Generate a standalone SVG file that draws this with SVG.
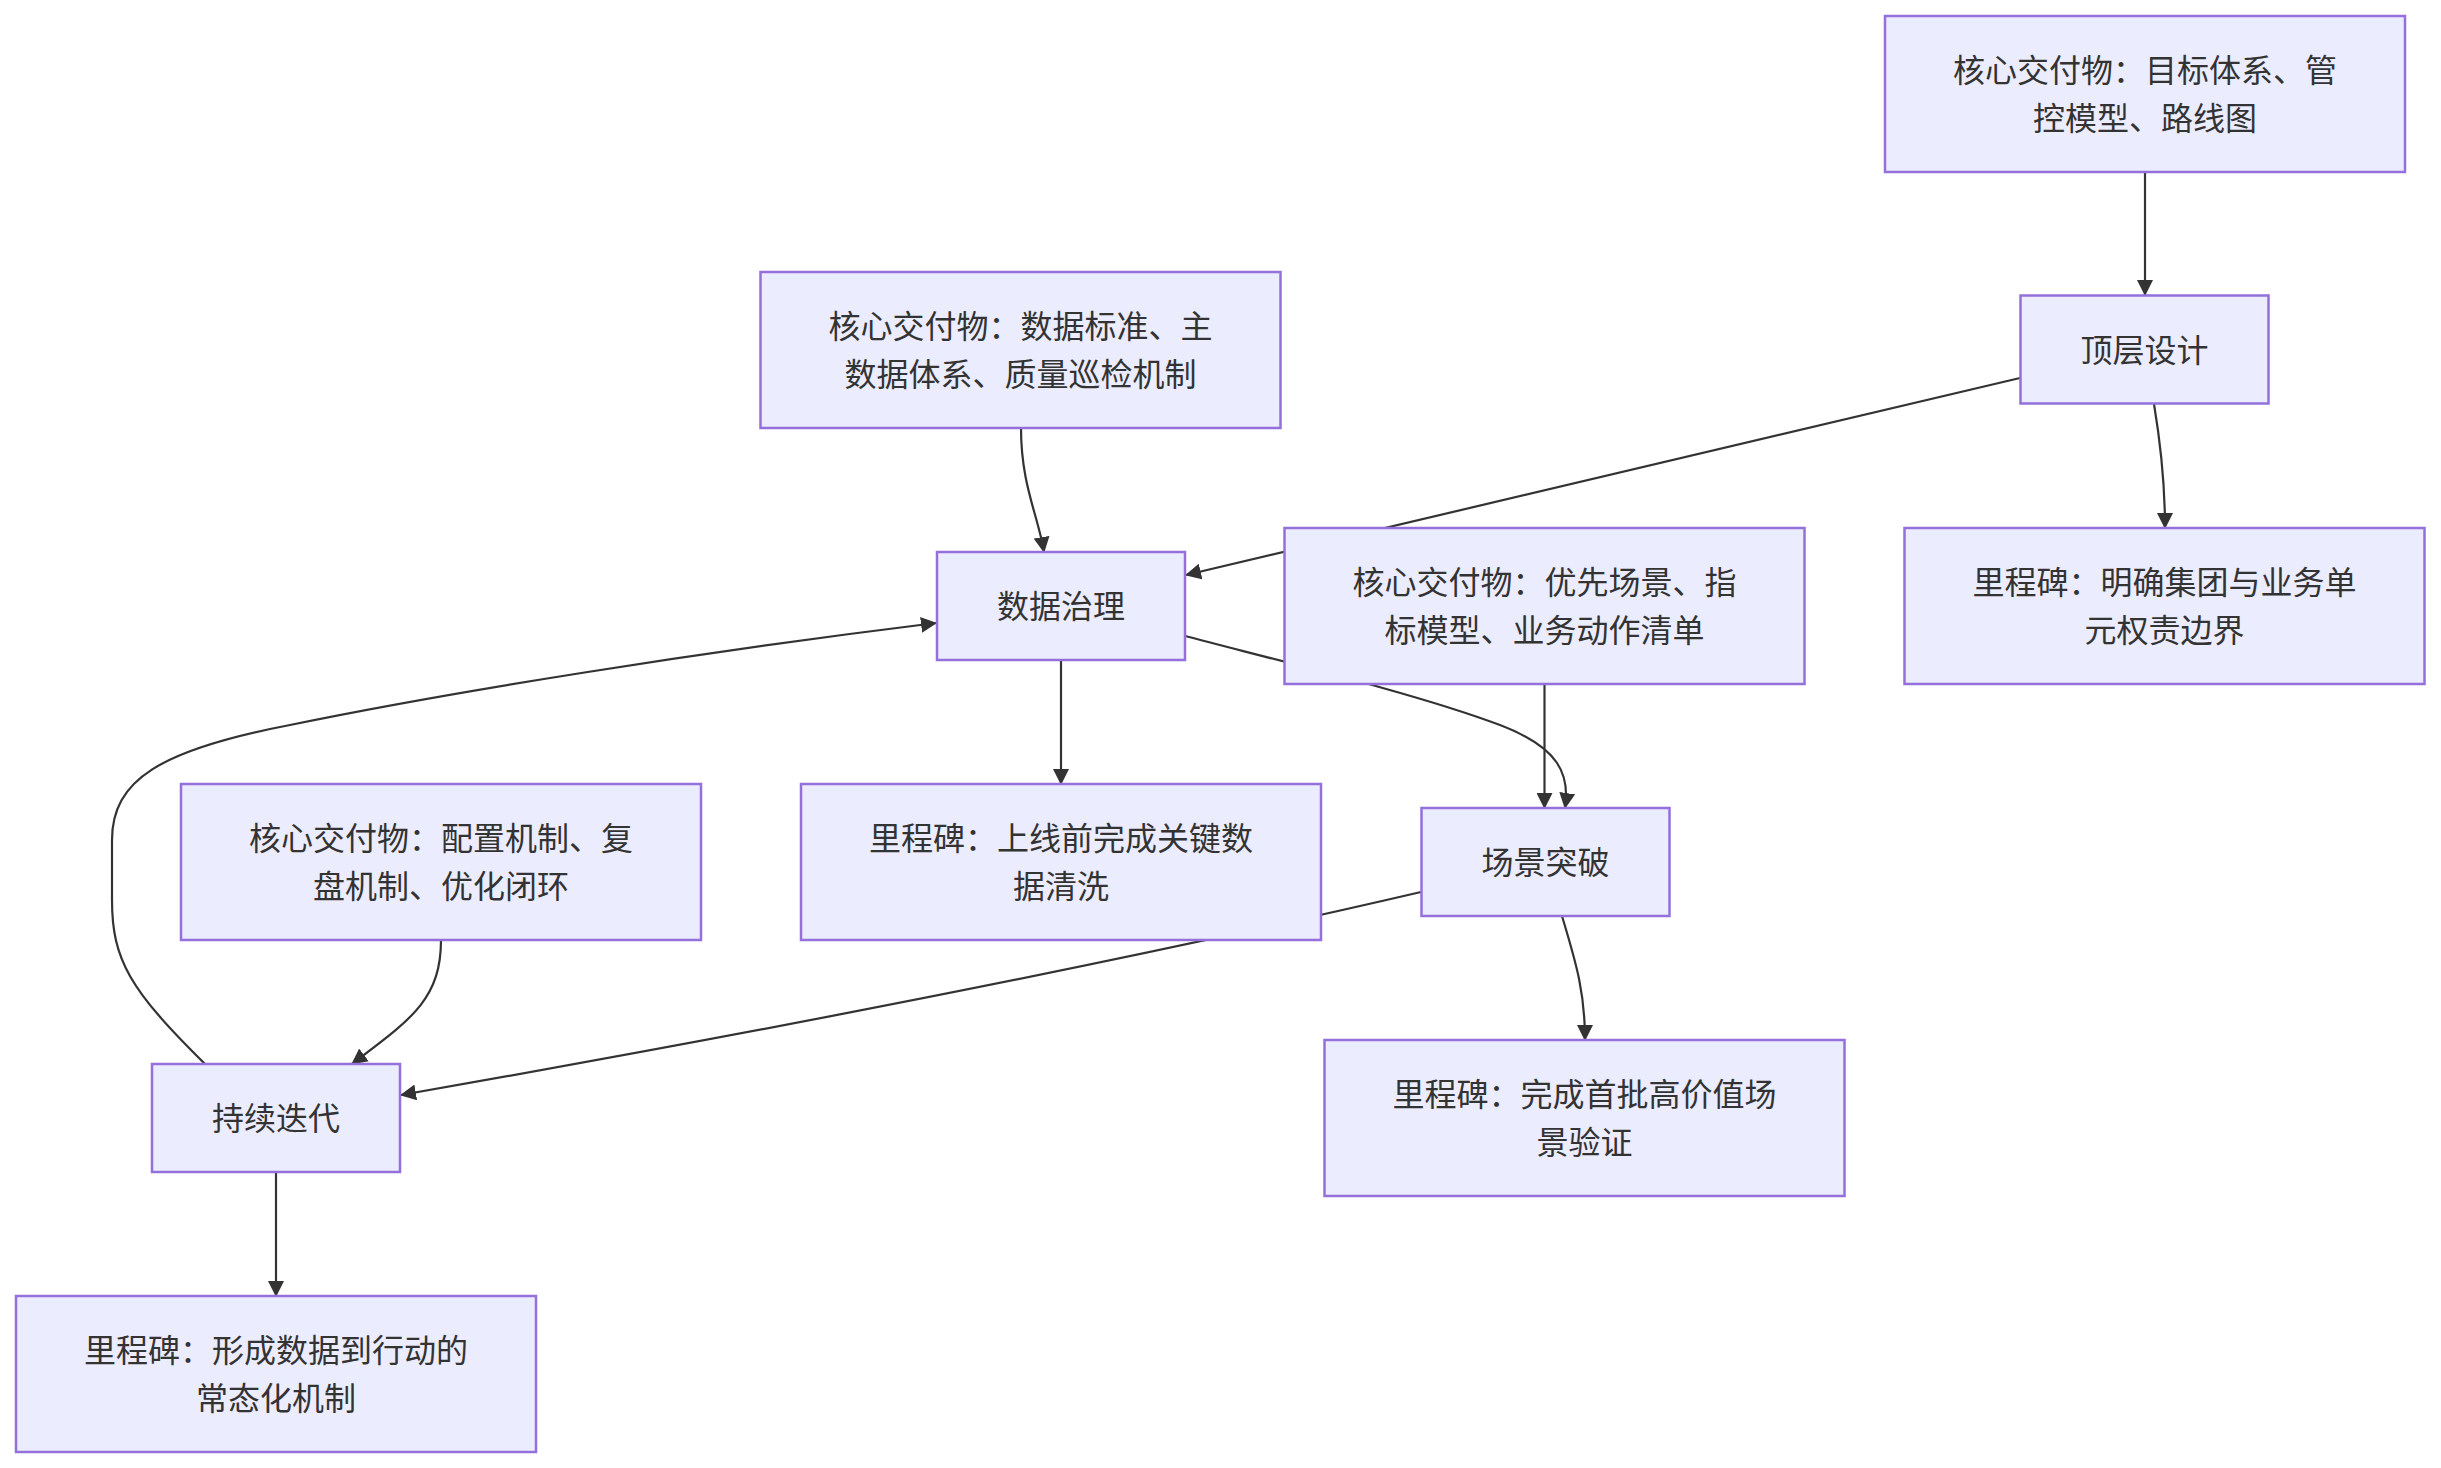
<svg xmlns="http://www.w3.org/2000/svg" width="2441" height="1468" viewBox="0 0 2441 1468">
<style>
.node rect{fill:#ECECFF;stroke:#9370DB;stroke-width:2.5}
.node text{font-family:"Noto Sans CJK SC","Noto Sans",sans-serif;font-size:32px;fill:#333333;text-anchor:middle}
.edges path{fill:none;stroke:#333333;stroke-width:2.2}
</style>
<defs>
<marker id="arr" markerUnits="userSpaceOnUse" markerWidth="16" markerHeight="16" viewBox="0 0 16 16" refX="15" refY="8" orient="auto">
<path d="M0,0 L16,8 L0,16 z" fill="#333333"/>
</marker>
</defs>
<rect width="2441" height="1468" fill="#ffffff"/>
<g class="edges">
<path d="M2145,172 L2145,295" marker-end="url(#arr)"/>
<path d="M2154,404 C2160,440 2165,480 2165,528" marker-end="url(#arr)"/>
<path d="M2020,378 L1186,575" marker-end="url(#arr)"/>
<path d="M1021,428 C1021,485 1038,515 1044,552" marker-end="url(#arr)"/>
<path d="M1061,660 L1061,784" marker-end="url(#arr)"/>
<path d="M1185,636 C1300,666 1420,695 1500,725 C1560,748 1570,775 1565,808" marker-end="url(#arr)"/>
<path d="M1544.5,684 L1544.5,808" marker-end="url(#arr)"/>
<path d="M1562,916 C1575,960 1585,990 1585,1040" marker-end="url(#arr)"/>
<path d="M1421,892 Q1000,990 401,1095" marker-end="url(#arr)"/>
<path d="M441,940 C441,1000 410,1020 352,1064" marker-end="url(#arr)"/>
<path d="M276,1172 L276,1296" marker-end="url(#arr)"/>
<path d="M205,1064 C130,990 112,960 112,900 L112,840 C112,780 160,750 290,725 C450,692 700,652 936,623" marker-end="url(#arr)"/>
</g>
<g id="A" class="node"><rect x="1885" y="16" width="520" height="156"/><text x="2145" y="82">核心交付物：目标体系、管</text><text x="2145" y="130">控模型、路线图</text></g>
<g id="B" class="node"><rect x="2020.5" y="295.5" width="248" height="108"/><text x="2144.5" y="361.5">顶层设计</text></g>
<g id="C" class="node"><rect x="1904.5" y="528" width="520" height="156"/><text x="2164.5" y="594">里程碑：明确集团与业务单</text><text x="2164.5" y="642">元权责边界</text></g>
<g id="D" class="node"><rect x="760.5" y="272" width="520" height="156"/><text x="1020.5" y="338">核心交付物：数据标准、主</text><text x="1020.5" y="386">数据体系、质量巡检机制</text></g>
<g id="E" class="node"><rect x="937" y="552" width="248" height="108"/><text x="1061" y="618">数据治理</text></g>
<g id="F" class="node"><rect x="1284.5" y="528" width="520" height="156"/><text x="1544.5" y="594">核心交付物：优先场景、指</text><text x="1544.5" y="642">标模型、业务动作清单</text></g>
<g id="G" class="node"><rect x="801" y="784" width="520" height="156"/><text x="1061" y="850">里程碑：上线前完成关键数</text><text x="1061" y="898">据清洗</text></g>
<g id="H" class="node"><rect x="1421.5" y="808" width="248" height="108"/><text x="1545.5" y="874">场景突破</text></g>
<g id="I" class="node"><rect x="181" y="784" width="520" height="156"/><text x="441" y="850">核心交付物：配置机制、复</text><text x="441" y="898">盘机制、优化闭环</text></g>
<g id="J" class="node"><rect x="152" y="1064" width="248" height="108"/><text x="276" y="1130">持续迭代</text></g>
<g id="K" class="node"><rect x="1324.5" y="1040" width="520" height="156"/><text x="1584.5" y="1106">里程碑：完成首批高价值场</text><text x="1584.5" y="1154">景验证</text></g>
<g id="L" class="node"><rect x="16" y="1296" width="520" height="156"/><text x="276" y="1362">里程碑：形成数据到行动的</text><text x="276" y="1410">常态化机制</text></g>
</svg>
